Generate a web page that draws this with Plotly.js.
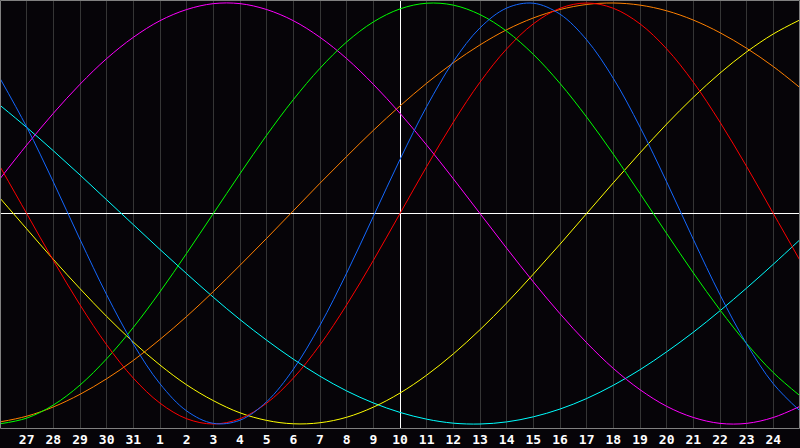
<!DOCTYPE html>
<html>
<head>
<meta charset="utf-8">
<script src="https://cdn.plot.ly/plotly-3.0.1.min.js"></script>
<style>
html,body{margin:0;padding:0;background:#060408;}
#chart{width:800px;height:448px;}
</style>
</head>
<body>
<div id="chart"></div>
<script>
// day offsets relative to the centre day (the 10th)
var dayOffsets = [-15,-14,-13,-12,-11,-10,-9,-8,-7,-6,-5,-4,-3,-2,-1,0,1,2,3,4,5,6,7,8,9,10,11,12,13,14,15];
var tickPositions = [-14,-13,-12,-11,-10,-9,-8,-7,-6,-5,-4,-3,-2,-1,0,1,2,3,4,5,6,7,8,9,10,11,12,13,14];
var tickLabels = ["27","28","29","30","31","1","2","3","4","5","6","7","8","9","10","11","12","13","14","15","16","17","18","19","20","21","22","23","24"];

var physical     = [0.642,0.411,0.150,-0.123,-0.386,-0.620,-0.809,-0.938,-0.997,-0.982,-0.894,-0.740,-0.531,-0.283,-0.014,0.257,0.508,0.722,0.882,0.976,0.999,0.947,0.825,0.642,0.411,0.150,-0.123,-0.386,-0.620,-0.809,-0.938];
var emotional    = [0.223,0,-0.223,-0.434,-0.624,-0.782,-0.901,-0.975,-1,-0.975,-0.901,-0.782,-0.624,-0.434,-0.223,0,0.223,0.434,0.624,0.782,0.901,0.975,1,0.975,0.901,0.782,0.624,0.434,0.223,0,-0.223];
var intellectual = [-0.999,-0.972,-0.910,-0.815,-0.690,-0.541,-0.372,-0.189,0,0.189,0.372,0.541,0.690,0.815,0.910,0.972,0.999,0.990,0.945,0.866,0.756,0.618,0.458,0.282,0.095,-0.095,-0.282,-0.458,-0.618,-0.756,-0.866];
var intuitive    = [0.165,0.325,0.476,0.614,0.736,0.837,0.916,0.969,0.997,0.997,0.969,0.916,0.837,0.736,0.614,0.476,0.325,0.165,0,-0.165,-0.325,-0.476,-0.614,-0.736,-0.837,-0.916,-0.969,-0.997,-0.997,-0.969,-0.916];
var aesthetic    = [0.073,-0.073,-0.218,-0.357,-0.489,-0.611,-0.720,-0.814,-0.889,-0.947,-0.983,-0.999,-0.994,-0.968,-0.920,-0.853,-0.768,-0.667,-0.552,-0.425,-0.288,-0.146,0,0.146,0.288,0.425,0.552,0.667,0.768,0.853,0.920];
var awareness    = [-0.990,-0.963,-0.919,-0.859,-0.785,-0.698,-0.598,-0.489,-0.371,-0.246,-0.118,0.013,0.144,0.271,0.395,0.511,0.619,0.716,0.801,0.873,0.929,0.969,0.993,1.000,0.990,0.963,0.919,0.859,0.785,0.698,0.598];
var spiritual    = [0.514,0.409,0.298,0.183,0.065,-0.053,-0.171,-0.286,-0.398,-0.504,-0.602,-0.692,-0.773,-0.843,-0.900,-0.945,-0.977,-0.996,-1.000,-0.990,-0.966,-0.929,-0.879,-0.816,-0.742,-0.657,-0.564,-0.462,-0.354,-0.241,-0.124];

var seriesNames  = ["Spiritual","Aesthetic","Awareness","Intuitive","Intellectual","Emotional","Physical"];
var seriesValues = [spiritual, aesthetic, awareness, intuitive, intellectual, emotional, physical];
var seriesColors = ["#00ffff","#ffff00","#ff8000","#ff00ff","#00ff00","#ff0000","#1468ff"];

var traces = seriesValues.map(function(vals, i){
  return {
    x: dayOffsets, y: vals, name: seriesNames[i], type: 'scatter', mode: 'lines',
    line: {color: seriesColors[i], width: 1, shape: 'spline', smoothing: 1},
    hoverinfo: 'skip'
  };
});

var layout = {
  width: 800, height: 448,
  margin: {l: 0, r: 0, t: 0, b: 20, pad: 0},
  paper_bgcolor: '#060408', plot_bgcolor: '#060408',
  showlegend: false,
  xaxis: {
    range: [-15, 15], fixedrange: true,
    tickmode: 'array', tickvals: tickPositions, ticktext: tickLabels,
    showgrid: true, gridcolor: '#353535', gridwidth: 1,
    zeroline: true, zerolinecolor: '#ffffff', zerolinewidth: 1,
    ticks: '', showline: false, ticklabelstandoff: 2,
    tickfont: {family: 'DejaVu Sans Mono, monospace', size: 13, color: '#ffffff', weight: 'bold'}
  },
  yaxis: {
    range: [-1.019, 1.0143], fixedrange: true,
    showgrid: false, showticklabels: false, ticks: '',
    zeroline: true, zerolinecolor: '#ffffff', zerolinewidth: 1, showline: false
  },
  shapes: [{
    type: 'rect', xref: 'paper', yref: 'paper',
    x0: 0.000625, x1: 0.999375, y0: -0.00117, y1: 0.99883,
    line: {color: '#808080', width: 1}, layer: 'above'
  }]
};

Plotly.newPlot('chart', traces, layout, {staticPlot: true, displayModeBar: false});
</script>
</body>
</html>
